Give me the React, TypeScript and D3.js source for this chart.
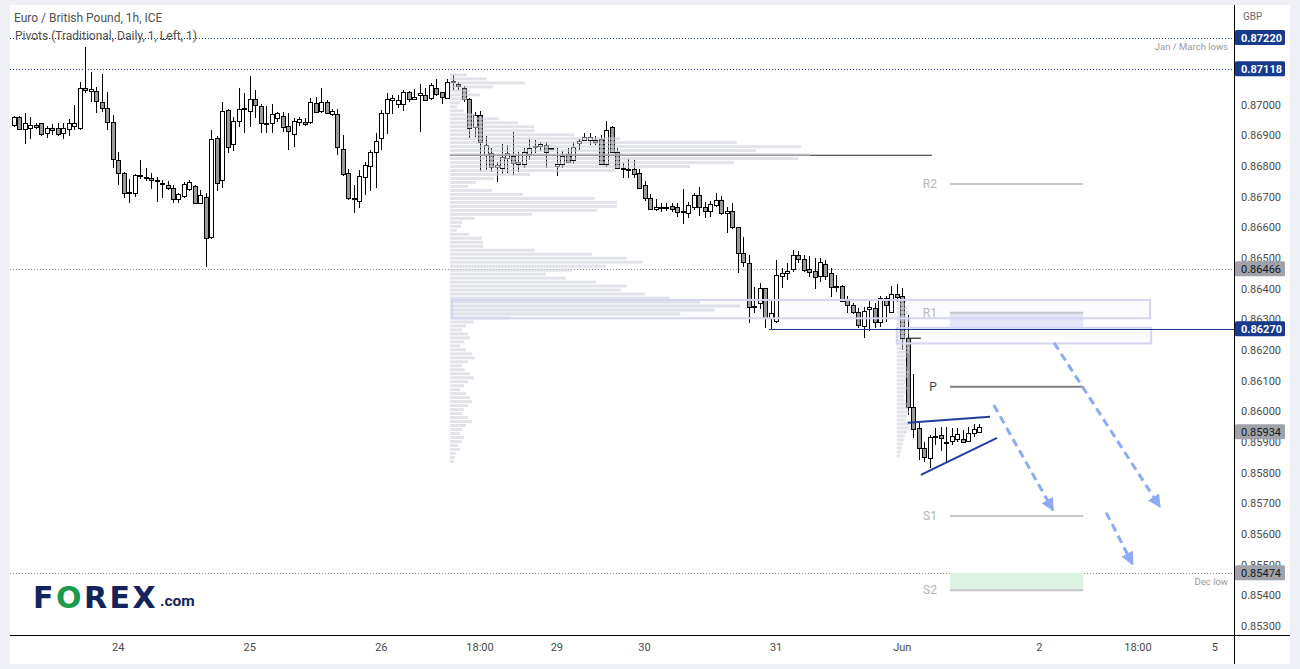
import React from "react";
import * as d3 from "d3";

// ---------- DATA ----------
// hourly candles [open, high, low, close]
const ohlc: [number, number, number, number][] = [
  [0.86935, 0.86964, 0.86929, 0.8696], [0.8696, 0.86963, 0.86921, 0.86923], [0.86923, 0.86973, 0.86873, 0.8694],
  [0.86926, 0.8696, 0.86888, 0.86934], [0.86935, 0.8694, 0.86921, 0.86927], [0.8694, 0.86942, 0.869, 0.86906],
  [0.86908, 0.86931, 0.86893, 0.86924], [0.86925, 0.86938, 0.86902, 0.86919], [0.86924, 0.8694, 0.86898, 0.86904],
  [0.86908, 0.8694, 0.8689, 0.86925], [0.86921, 0.86954, 0.869, 0.8694], [0.8693, 0.87, 0.86918, 0.8694],
  [0.86926, 0.87076, 0.86918, 0.87054], [0.87054, 0.87189, 0.8704, 0.8705], [0.87045, 0.87107, 0.87011, 0.87051],
  [0.87045, 0.8706, 0.86973, 0.87014], [0.87009, 0.87101, 0.86978, 0.86989], [0.86989, 0.87041, 0.86918, 0.86944],
  [0.86945, 0.86967, 0.86793, 0.86823], [0.86821, 0.86847, 0.86739, 0.86777], [0.86778, 0.86782, 0.86698, 0.86712],
  [0.86714, 0.86758, 0.86681, 0.86716], [0.86714, 0.86774, 0.86701, 0.86772], [0.86768, 0.86821, 0.8676, 0.86771],
  [0.86765, 0.86793, 0.86752, 0.86761], [0.86762, 0.86777, 0.86727, 0.86754], [0.86755, 0.86766, 0.86684, 0.86751],
  [0.86744, 0.86755, 0.86698, 0.86741], [0.86739, 0.86752, 0.86723, 0.86728], [0.86728, 0.86739, 0.86681, 0.86692],
  [0.86692, 0.86714, 0.86681, 0.8671], [0.86704, 0.8675, 0.86698, 0.86741], [0.86725, 0.86755, 0.86719, 0.8675],
  [0.86736, 0.86739, 0.86679, 0.86679], [0.86679, 0.86723, 0.86679, 0.86705], [0.86699, 0.86714, 0.86472, 0.86565],
  [0.8657, 0.86918, 0.86562, 0.86888], [0.86891, 0.86899, 0.8672, 0.86745], [0.86755, 0.87011, 0.8673, 0.8698],
  [0.86984, 0.86986, 0.86842, 0.86864], [0.86872, 0.86962, 0.86851, 0.86948], [0.86948, 0.87054, 0.86929, 0.86986],
  [0.86987, 0.87038, 0.8691, 0.86989], [0.86981, 0.87095, 0.86929, 0.87019], [0.87019, 0.87049, 0.86959, 0.86999],
  [0.86997, 0.87002, 0.8691, 0.8694], [0.86941, 0.86997, 0.8691, 0.86938], [0.8694, 0.87003, 0.86908, 0.8697],
  [0.86959, 0.86978, 0.86946, 0.86973], [0.86964, 0.86978, 0.86911, 0.86927], [0.8693, 0.86973, 0.86853, 0.86916],
  [0.86904, 0.86957, 0.86864, 0.86948], [0.86944, 0.86962, 0.86932, 0.86953], [0.86945, 0.86957, 0.86931, 0.86937],
  [0.86944, 0.87024, 0.86938, 0.87011], [0.87008, 0.87027, 0.86973, 0.86976], [0.8698, 0.87054, 0.86973, 0.87009],
  [0.87009, 0.87016, 0.8697, 0.86973], [0.86972, 0.86986, 0.86964, 0.8698], [0.8697, 0.86986, 0.86837, 0.86862],
  [0.86855, 0.86902, 0.86768, 0.86776], [0.86777, 0.86791, 0.86691, 0.86696], [0.86697, 0.86739, 0.86647, 0.86694],
  [0.86688, 0.86788, 0.86665, 0.86769], [0.86764, 0.86815, 0.86706, 0.86803], [0.86801, 0.86853, 0.8672, 0.86846],
  [0.86847, 0.8691, 0.86728, 0.86883], [0.86891, 0.86984, 0.86853, 0.86973], [0.86973, 0.87038, 0.86904, 0.87019],
  [0.87017, 0.87033, 0.8697, 0.87024], [0.87003, 0.87033, 0.86989, 0.87016], [0.87002, 0.87049, 0.86981, 0.87041],
  [0.87041, 0.87046, 0.87011, 0.87019], [0.87021, 0.87051, 0.87019, 0.87025], [0.87032, 0.87068, 0.86911, 0.87038],
  [0.87033, 0.87054, 0.87014, 0.87016], [0.87024, 0.87071, 0.87016, 0.87064], [0.87054, 0.87084, 0.8703, 0.87035],
  [0.87042, 0.87043, 0.87003, 0.87027], [0.87024, 0.87084, 0.8702, 0.87076], [0.87074, 0.87098, 0.87049, 0.87079],
  [0.87069, 0.87076, 0.87049, 0.87062], [0.87054, 0.87063, 0.87011, 0.87019], [0.8702, 0.87022, 0.86891, 0.86924],
  [0.86929, 0.86978, 0.86897, 0.86967], [0.86967, 0.8698, 0.86785, 0.86878], [0.86837, 0.869, 0.86788, 0.86869],
  [0.86842, 0.86859, 0.8678, 0.86799], [0.86799, 0.86815, 0.8675, 0.86804], [0.86793, 0.86872, 0.86774, 0.86831],
  [0.86828, 0.86869, 0.86777, 0.86842], [0.86835, 0.86911, 0.86772, 0.8681], [0.86813, 0.86846, 0.86782, 0.86808],
  [0.86806, 0.86859, 0.86793, 0.86846], [0.86839, 0.86889, 0.86821, 0.86859], [0.86863, 0.86886, 0.86842, 0.86867],
  [0.86867, 0.86878, 0.8685, 0.86872], [0.86869, 0.8688, 0.86793, 0.86846], [0.86858, 0.8686, 0.86857, 0.86859],
  [0.86802, 0.86859, 0.86769, 0.86806], [0.86806, 0.8685, 0.86795, 0.86835], [0.8684, 0.86859, 0.8681, 0.86815],
  [0.86821, 0.8688, 0.86807, 0.86864], [0.86875, 0.86889, 0.86853, 0.86883], [0.86886, 0.86908, 0.86883, 0.86897],
  [0.86886, 0.86908, 0.86869, 0.86897], [0.86886, 0.869, 0.86869, 0.8688], [0.86889, 0.86902, 0.86804, 0.86806],
  [0.86806, 0.86948, 0.86799, 0.86918], [0.86929, 0.86933, 0.86842, 0.86848], [0.86848, 0.86861, 0.86791, 0.86795],
  [0.86795, 0.8681, 0.86761, 0.8679], [0.8679, 0.86823, 0.86761, 0.86789], [0.86791, 0.86821, 0.86761, 0.86775],
  [0.86777, 0.86791, 0.86726, 0.86728], [0.86739, 0.86753, 0.86688, 0.86696], [0.86696, 0.8671, 0.86657, 0.8666],
  [0.8666, 0.86692, 0.86655, 0.86668], [0.86668, 0.86679, 0.86652, 0.86665], [0.86665, 0.86681, 0.86655, 0.86667],
  [0.8667, 0.86679, 0.86652, 0.8666], [0.86666, 0.86679, 0.86636, 0.86652], [0.86653, 0.86725, 0.86612, 0.86651],
  [0.86649, 0.86684, 0.86632, 0.86674], [0.86666, 0.86712, 0.86657, 0.86706], [0.86706, 0.86731, 0.86638, 0.86666],
  [0.86666, 0.86684, 0.86632, 0.86655], [0.86655, 0.86688, 0.86636, 0.86677], [0.86675, 0.86712, 0.86668, 0.8669],
  [0.8669, 0.86703, 0.86641, 0.86649], [0.86649, 0.86668, 0.86581, 0.86653], [0.86653, 0.86679, 0.86594, 0.86601],
  [0.86601, 0.86603, 0.86451, 0.86516], [0.86516, 0.86568, 0.8647, 0.86489], [0.86483, 0.86511, 0.8629, 0.8634],
  [0.8634, 0.86405, 0.86322, 0.86344], [0.86353, 0.86418, 0.86333, 0.86402], [0.86402, 0.86402, 0.86271, 0.86304],
  [0.86304, 0.8636, 0.86268, 0.8632], [0.86296, 0.86494, 0.8629, 0.86445], [0.86443, 0.86467, 0.86402, 0.86451],
  [0.86451, 0.86483, 0.86429, 0.86458], [0.86464, 0.86527, 0.86456, 0.8651], [0.8651, 0.86525, 0.86483, 0.86497],
  [0.86497, 0.86511, 0.86456, 0.86462], [0.86464, 0.86507, 0.86438, 0.86456], [0.86458, 0.865, 0.86399, 0.8644],
  [0.86443, 0.865, 0.86423, 0.86487], [0.8648, 0.86494, 0.86429, 0.86443], [0.86451, 0.86467, 0.86374, 0.86407],
  [0.86409, 0.86445, 0.86391, 0.86407], [0.86409, 0.86413, 0.86358, 0.86361], [0.86364, 0.86377, 0.86322, 0.86347],
  [0.86347, 0.86353, 0.86317, 0.86324], [0.86326, 0.86339, 0.86271, 0.86282], [0.8628, 0.86342, 0.86241, 0.86328],
  [0.86333, 0.8636, 0.86263, 0.86342], [0.86337, 0.86353, 0.86271, 0.86293], [0.86293, 0.86378, 0.86277, 0.86371],
  [0.86371, 0.86378, 0.86293, 0.86347], [0.86326, 0.86409, 0.86326, 0.86382], [0.86382, 0.86415, 0.86358, 0.86372],
  [0.86378, 0.86402, 0.86201, 0.86239], [0.86239, 0.86315, 0.85988, 0.86016], [0.86016, 0.86121, 0.85912, 0.85943],
  [0.85945, 0.85967, 0.85842, 0.8588], [0.8588, 0.85901, 0.85836, 0.85852], [0.85849, 0.85923, 0.85816, 0.85918],
  [0.8592, 0.85945, 0.85891, 0.85919], [0.85923, 0.8595, 0.85871, 0.85914], [0.85898, 0.8595, 0.85836, 0.85899],
  [0.85904, 0.85945, 0.85891, 0.8592], [0.85909, 0.85947, 0.85901, 0.85925], [0.8591, 0.8594, 0.85896, 0.85901],
  [0.85904, 0.8595, 0.85901, 0.85929], [0.85929, 0.85958, 0.85918, 0.85943], [0.85934, 0.85958, 0.85929, 0.8595],
];

// right-axis ticks (0.87100 and 0.87200 sit fully under the level labels)
const priceTicks = [0.853, 0.854, 0.855, 0.856, 0.857, 0.858, 0.859, 0.86, 0.861, 0.862, 0.863, 0.864, 0.865, 0.866, 0.867, 0.868, 0.869, 0.87];

// [bar index, label]
const timeTicks: [number, string][] = [
  [19, "24"], [43, "25"], [67, "26"], [85, "18:00"], [99, "29"], [115, "30"], [139, "31"], [162, "Jun"], [187, "2"], [205, "18:00"], [219, "5"],
];

const navyLevels = [0.8722, 0.87118];
const grayLevels = [0.86466, 0.85474];
const keyLevel = 0.8627;
const keyLevelStart = 137.7;
const lastPrice = 0.85934;

const pivotNames = ["R2", "R1", "P", "S1", "S2"];
const pivotValues = [0.86742, 0.86322, 0.86081, 0.85659, 0.85417];
const pivotSpan = [170.7, 195];

// volume profile (visible range)
const profileVolumes = [
  17, 37, 75, 43, 20, 30, 17, 10, 7, 14, 25, 49, 68, 84, 85, 124, 170, 287, 351, 306,
  360, 348, 284, 240, 165, 80, 44, 26, 18, 42, 73, 145, 167, 167, 147, 82, 25, 12, 11, 7,
  19, 32, 33, 33, 85, 142, 177, 193, 156, 122, 96, 116, 146, 177, 171, 195, 220,
  250, 290, 265, 230,
  60, 24, 16, 12, 18, 20, 14, 10, 16, 22, 25, 18, 12, 15, 20, 24, 18, 14, 10, 16,
  20, 22, 18, 14, 12, 18, 22, 16, 12, 10, 14, 12, 8, 10, 6, 5, 4,
];
const profileTop = 0.87103;
const profileStep = 0.00013;
const profileStart = 79.5;
const pocLevel = 0.86836;
const pocExtend = [145.2, 167.4];

// session volume profile (Jun 1)
const sessionVolumes = [6, 8, 10, 12, 9, 14, 10, 8, 12, 10, 9, 11, 13, 12, 10, 9, 8, 10, 12, 11, 9, 8, 10, 9, 7, 8, 10, 11, 12, 10, 9, 13, 12, 10, 8, 7, 6, 5, 4, 3];
const sessionTop = 0.86367;
const sessionStart = 161;
const sessionPoc = 0.86239;
const sessionPocSpan = [162.8, 165.4];

// drawn zones [x0, x1, top, bottom]
const zoneBoxes: [number, number, number, number][] = [
  [79.9, 207.2, 0.86364, 0.86304],
  [161, 207.4, 0.86273, 0.86222],
];
// triangle lines [x0, p0, x1, p1]
const triangleLines: [number, number, number, number][] = [
  [163, 0.85963, 178, 0.85983],
  [165.4, 0.85793, 179.3, 0.85914],
];
// projection arrows [x0, p0, x1, p1]
const arrowLines: [number, number, number, number][] = [
  [178.7, 0.86021, 189.5, 0.85678],
  [189.7, 0.86224, 209, 0.85689],
  [199.2, 0.8567, 204, 0.85502],
];

// ---------- CHART ----------
const W = 1300;
const H = 669;
const paneL = 10, paneT = 5, paneR = 1290, paneB = 664;
const plotR = 1234, plotB = 635;
const FONT = "Roboto, 'Liberation Sans', Arial, sans-serif";
const NAVY = "#163a8e";

export default function App() {
  const x = d3.scaleLinear().domain([0, ohlc.length - 1]).range([14, 979]);
  const y = d3.scaleLinear().domain([0.853, 0.87]).range([626, 105]);
  const vol = d3.scaleLinear().domain([0, 360]).range([0, 360]);
  const fmt = d3.format(".5f");
  const rowH = Math.abs(y(0) - y(profileStep));

  const crisp = (v: number) => Math.round(v) + 0.5;

  return (
    <svg width={W} height={H} style={{ position: "absolute", left: 0, top: 0 }} fontFamily={FONT}>
      <defs>
        <marker id="ah" viewBox="0 0 10 10" refX="9" refY="5" markerWidth="13" markerHeight="13" markerUnits="userSpaceOnUse" orient="auto">
          <path d="M0,0 L10,5 L0,10 z" fill="#8eaaf6" />
        </marker>
        <clipPath id="plot">
          <rect x={paneL} y={paneT} width={plotR - paneL} height={plotB - paneT} />
        </clipPath>
      </defs>
      <rect x={0} y={0} width={W} height={H} fill="#eef0f5" />
      <rect x={paneL} y={paneT} width={paneR - paneL} height={paneB - paneT} fill="#ffffff" />

      <g clipPath="url(#plot)">
        {/* level lines */}
        {navyLevels.map((v) => (
          <line key={v} x1={paneL} x2={plotR} y1={crisp(y(v))} y2={crisp(y(v))} stroke={NAVY} strokeDasharray="1 2" />
        ))}
        {grayLevels.map((v) => (
          <line key={v} x1={paneL} x2={plotR} y1={crisp(y(v))} y2={crisp(y(v))} stroke="#8f8f8f" strokeDasharray="1 2" />
        ))}

        {/* pivot zones */}
        <rect x={x(pivotSpan[0])} y={y(pivotValues[1])} width={x(pivotSpan[1]) - x(pivotSpan[0])} height={y(keyLevel) - y(pivotValues[1])} fill="#e4e5f6" />
        <rect x={x(pivotSpan[0])} y={y(grayLevels[1])} width={x(pivotSpan[1]) - x(pivotSpan[0])} height={y(pivotValues[4]) - y(grayLevels[1])} fill="#ddf2e2" />
        {pivotValues.map((v, i) => (
          <g key={pivotNames[i]}>
            <line x1={x(pivotSpan[0])} x2={x(pivotSpan[1])} y1={y(v)} y2={y(v)} stroke={pivotNames[i] === "P" ? "#7f7f7f" : "#c6c7cc"} strokeWidth={2} />
            <text x={x(pivotSpan[0]) - 13} y={y(v)} dy="0.35em" textAnchor="end" fontSize={12} fill={pivotNames[i] === "P" ? "#4a4a4a" : "#b4b6bd"}>
              {pivotNames[i]}
            </text>
          </g>
        ))}

        {/* candles */}
        {ohlc.map(([o, h, l, c], i) => {
          const cx = Math.round(x(i));
          const top = Math.round(y(Math.max(o, c)));
          const bot = Math.round(y(Math.min(o, c)));
          const bull = c >= o;
          return (
            <g key={i} shapeRendering="crispEdges">
              <line x1={cx + 0.5} x2={cx + 0.5} y1={y(h)} y2={y(l)} stroke="#000" />
              <rect x={cx - 1.5} y={top + 0.5} width={4} height={Math.max(bot - top, 1)} fill={bull ? "#ffffff" : "#9a9a9a"} stroke="#000" />
            </g>
          );
        })}

        {/* volume profile */}
        {profileVolumes.map((v, i) => (
          <rect key={"vp" + i} x={x(profileStart)} y={y(profileTop - i * profileStep)} width={vol(v)} height={rowH - 1} fill="#cdd0da" fillOpacity={0.6} />
        ))}
        {sessionVolumes.map((v, i) => (
          <rect key={"sp" + i} x={x(sessionStart)} y={y(sessionTop - i * profileStep)} width={vol(v)} height={rowH - 1} fill="#cdd0da" fillOpacity={0.6} />
        ))}
        <line x1={x(profileStart)} x2={x(pocExtend[0])} y1={y(pocLevel)} y2={y(pocLevel)} stroke="#9c9c9c" strokeWidth={1.5} />
        <line x1={x(pocExtend[0])} x2={x(pocExtend[1])} y1={y(pocLevel)} y2={y(pocLevel)} stroke="#222" strokeWidth={1.2} />
        <line x1={x(sessionPocSpan[0])} x2={x(sessionPocSpan[1])} y1={y(sessionPoc)} y2={y(sessionPoc)} stroke="#222" strokeWidth={1.2} />

        {/* zone boxes */}
        {zoneBoxes.map(([a, b, t, btm], i) => (
          <rect key={"zb" + i} x={x(a)} y={y(t)} width={x(b) - x(a)} height={y(btm) - y(t)} fill="rgba(200,200,240,0.06)" stroke="#d5d5f2" strokeWidth={2} />
        ))}

        {/* key level */}
        <line x1={x(keyLevelStart)} x2={plotR} y1={crisp(y(keyLevel))} y2={crisp(y(keyLevel))} stroke={NAVY} strokeWidth={1.2} />

        {/* triangle */}
        {triangleLines.map(([a, p, b, q], i) => (
          <line key={"tl" + i} x1={x(a)} y1={y(p)} x2={x(b)} y2={y(q)} stroke="#1f3ea0" strokeWidth={2} />
        ))}

        {/* arrows */}
        {arrowLines.map(([a, p, b, q], i) => (
          <line key={"ar" + i} x1={x(a)} y1={y(p)} x2={x(b)} y2={y(q)} stroke="#8eaaf6" strokeWidth={3} strokeDasharray="8 5" markerEnd="url(#ah)" />
        ))}

        <text x={plotR - 6} y={y(navyLevels[0]) + 12} textAnchor="end" fontSize={9.5} fill="#9a9a9a">Jan / March lows</text>
        <text x={plotR - 6} y={y(grayLevels[1]) + 12} textAnchor="end" fontSize={9.5} fill="#9a9a9a">Dec low</text>
      </g>

      {/* titles */}
      <text x={14} y={22} fontSize={12} fill="#4f4f4f">Euro / British Pound, 1h, ICE</text>
      <text x={15} y={40} fontSize={12} fill="#4f4f4f">Pivots (Traditional, Daily, 1, Left, 1)</text>

      {/* logo */}
      <text x={33} y={608} fontSize={30} fontWeight={900} fontFamily="'DejaVu Sans', sans-serif" letterSpacing={2.5} fill="#13235c">
        F<tspan fill="#1a9a4a">O</tspan>REX
      </text>
      <text x={160} y={606} fontSize={15.5} fontWeight={700} fontFamily="Roboto, sans-serif" fill="#13235c">.com</text>

      {/* axes */}
      <line x1={paneL} x2={paneR} y1={plotB + 0.5} y2={plotB + 0.5} stroke="#000" />
      <line x1={plotR + 0.5} x2={plotR + 0.5} y1={paneT} y2={paneB} stroke="#000" />
      <text x={1243} y={20} fontSize={10} fill="#6a6a6a">GBP</text>
      {priceTicks.map((v) => (
        <text key={v} x={1241} y={y(v)} dy="0.35em" fontSize={11} fill="#4a4a4a">{fmt(v)}</text>
      ))}
      {timeTicks.map(([idx, lab], i) => (
        <text key={i} x={x(idx)} y={651} textAnchor="middle" fontSize={11} fill="#4a4a4a">{lab}</text>
      ))}

      {/* price labels */}
      {[...navyLevels, keyLevel].map((v) => (
        <g key={"nl" + v}>
          <rect x={plotR + 1} y={y(v) - 7.5} width={50} height={15} fill={NAVY} rx={1.5} />
          <text x={1241} y={y(v)} dy="0.36em" fontSize={11} fontWeight={700} fill="#fff">{fmt(v)}</text>
        </g>
      ))}
      {[grayLevels[0], lastPrice, grayLevels[1]].map((v) => (
        <g key={"gl" + v}>
          <rect x={plotR + 1} y={y(v) - 7.5} width={50} height={15} fill="#9fa2a9" rx={1.5} />
          <text x={1241} y={y(v)} dy="0.36em" fontSize={11} fill="#131722">{fmt(v)}</text>
        </g>
      ))}
    </svg>
  );
}
